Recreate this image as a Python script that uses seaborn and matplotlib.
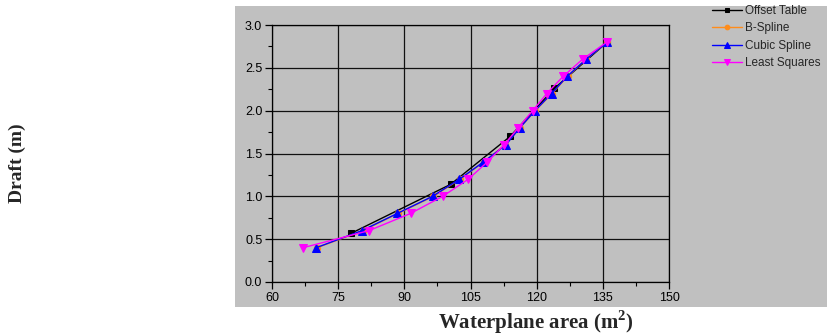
import matplotlib
matplotlib.use("Agg")
import matplotlib.pyplot as plt
import seaborn as sns
import pandas as pd
from matplotlib.patches import Rectangle

# Data (waterplane area m^2, draft m)
offset_area = [78.0, 100.5, 114.0, 124.0, 136.0]
offset_draft = [0.57, 1.14, 1.70, 2.26, 2.80]

bspline_area = [70.2, 80.6, 88.6, 96.6, 102.6, 108.0, 112.8, 116.2, 119.7, 123.5, 127.0, 131.2, 136.0]
bspline_draft = [0.40, 0.60, 0.80, 1.00, 1.20, 1.40, 1.60, 1.80, 2.00, 2.20, 2.40, 2.60, 2.80]

cubic_area = [70.0, 80.4, 88.4, 96.4, 102.5, 107.9, 113.0, 116.2, 119.6, 123.4, 126.9, 131.2, 136.0]
cubic_draft = [0.40, 0.60, 0.80, 1.00, 1.20, 1.40, 1.60, 1.80, 2.00, 2.20, 2.40, 2.60, 2.80]

lsq_area = [67.0, 82.0, 91.4, 98.7, 104.5, 108.8, 112.6, 115.8, 119.1, 122.3, 126.0, 130.4, 135.9]
lsq_draft = [0.40, 0.60, 0.80, 1.00, 1.20, 1.40, 1.60, 1.80, 2.00, 2.20, 2.40, 2.60, 2.80]

x_ticks = [60, 75, 90, 105, 120, 135, 150]
y_ticks = [0.0, 0.5, 1.0, 1.5, 2.0, 2.5, 3.0]

sns.set_theme(style="white")
plt.rcParams['font.family'] = ['Liberation Sans', 'DejaVu Sans']
plt.rcParams['mathtext.fontset'] = 'custom'
plt.rcParams['mathtext.bf'] = 'Liberation Serif:bold'
plt.rcParams['mathtext.rm'] = 'Liberation Serif'

W, H = 827, 335
fig = plt.figure(figsize=(W / 100, H / 100), dpi=100)
fig.patch.set_facecolor("white")
bg = Rectangle((235 / W, 1 - 307 / H), (W - 235) / W, (307 - 6) / H,
               transform=fig.transFigure, facecolor="#c0c0c0",
               edgecolor="none", zorder=-10)
fig.patches.append(bg)

ax = fig.add_axes([272 / W, 1 - 282 / H, 397 / W, 257 / H])
ax.set_zorder(1)
ax.set_facecolor("#c0c0c0")

series = [
    ("Offset Table", offset_area, offset_draft, "black", "s", 4.5),
    ("B-Spline", bspline_area, bspline_draft, "#ff8c1a", "o", 4.5),
    ("Cubic Spline", cubic_area, cubic_draft, "#0000ff", "^", 6),
    ("Least Squares", lsq_area, lsq_draft, "#ff00ff", "v", 6),
]
for i, (name, xs, ys, col, mk, ms) in enumerate(series):
    df = pd.DataFrame({"area": xs, "draft": ys})
    sns.lineplot(data=df, x="area", y="draft", ax=ax, color=col, marker=mk,
                 markersize=ms, markeredgecolor=col, linewidth=1.0,
                 label=name, sort=False, zorder=3 + i)

ax.set_xlim(60, 150)
ax.set_ylim(0, 3.0)
ax.set_xticks(x_ticks)
ax.set_yticks(y_ticks)
ax.set_xticklabels([str(v) for v in x_ticks])
ax.set_yticklabels([f"{v:.1f}" for v in y_ticks])
ax.set_xticks([67.5, 82.5, 97.5, 112.5, 127.5, 142.5], minor=True)
ax.set_yticks([0.25, 0.75, 1.25, 1.75, 2.25, 2.75], minor=True)
ax.tick_params(axis="both", which="major", direction="out", length=5, width=0.9,
               color="black", labelsize=9, labelcolor="black", pad=2,
               bottom=True, left=True)
ax.tick_params(axis="both", which="minor", direction="out", length=3, width=0.8,
               color="black", bottom=True, left=True)
ax.grid(True, which="major", color="#111111", linewidth=0.9)
for s in ax.spines.values():
    s.set_visible(True)
    s.set_color("black")
    s.set_linewidth(0.9)
ax.set_xlabel("")
ax.set_ylabel("")

leg = ax.legend(loc="upper left", bbox_to_anchor=(711 / W, 1 - 4 / H),
                bbox_transform=fig.transFigure, frameon=False, fontsize=8.5,
                handlelength=2.5, handletextpad=0.25, labelspacing=0.45,
                borderpad=0.1, borderaxespad=0, markerscale=0.75)

fig.text(536 / W, 1 - 322 / H, "Waterplane area (m$^\\mathbf{2}$)", ha="center", va="center",
         fontsize=15, fontweight="bold", family="Liberation Serif")
fig.text(17 / W, 1 - 163 / H, "Draft (m)", ha="center", va="center", rotation=90,
         fontsize=14, fontweight="bold", family="Liberation Serif")

fig.savefig("out.png", dpi=100, facecolor="white")
